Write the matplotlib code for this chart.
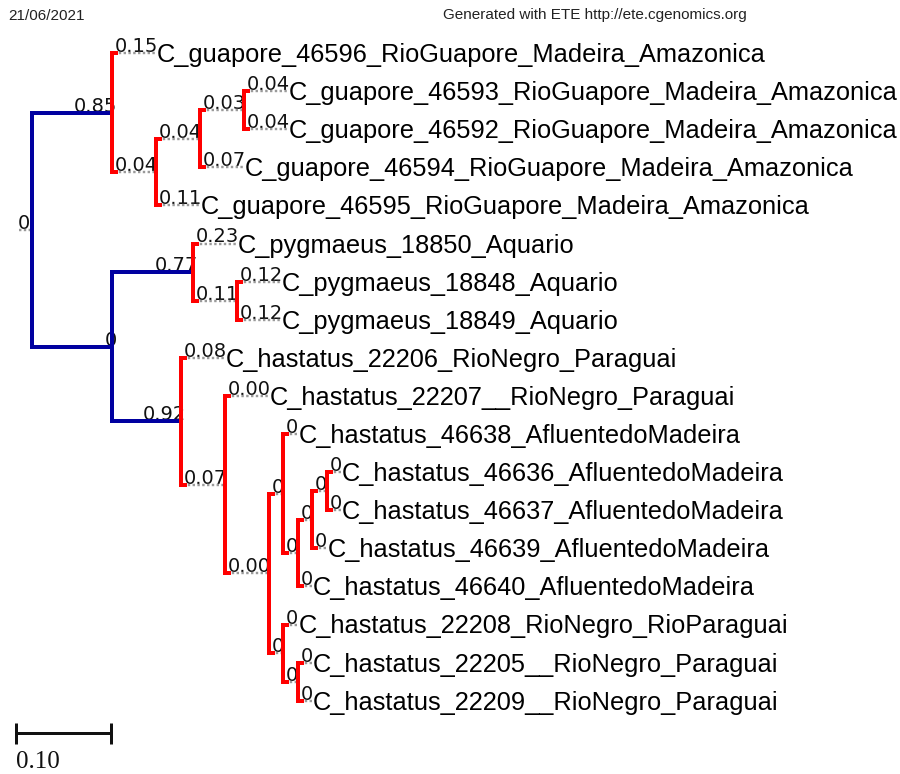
import matplotlib
matplotlib.use("Agg")
import matplotlib.pyplot as plt

# ---------------- data ----------------
leaf_names = [
    "C_guapore_46596_RioGuapore_Madeira_Amazonica",
    "C_guapore_46593_RioGuapore_Madeira_Amazonica",
    "C_guapore_46592_RioGuapore_Madeira_Amazonica",
    "C_guapore_46594_RioGuapore_Madeira_Amazonica",
    "C_guapore_46595_RioGuapore_Madeira_Amazonica",
    "C_pygmaeus_18850_Aquario",
    "C_pygmaeus_18848_Aquario",
    "C_pygmaeus_18849_Aquario",
    "C_hastatus_22206_RioNegro_Paraguai",
    "C_hastatus_22207__RioNegro_Paraguai",
    "C_hastatus_46638_AfluentedoMadeira",
    "C_hastatus_46636_AfluentedoMadeira",
    "C_hastatus_46637_AfluentedoMadeira",
    "C_hastatus_46639_AfluentedoMadeira",
    "C_hastatus_46640_AfluentedoMadeira",
    "C_hastatus_22208_RioNegro_RioParaguai",
    "C_hastatus_22205__RioNegro_Paraguai",
    "C_hastatus_22209__RioNegro_Paraguai",
]

# node = (branch label, branch length, children-list or leaf index)
guapore = ("0.85", 0.085, [
    ("0.15", 0.0, 0),
    ("0.04", 0.0, [
        ("0.04", 0.0, [
            ("0.03", 0.0, [("0.04", 0.0, 1), ("0.04", 0.0, 2)]),
            ("0.07", 0.0, 3),
        ]),
        ("0.11", 0.0, 4),
    ]),
])
pygmaeus = ("0.77", 0.085, [
    ("0.23", 0.0, 5),
    ("0.11", 0.0, [("0.12", 0.0, 6), ("0.12", 0.0, 7)]),
])
afluente = ("0", 0.0, [
    ("0", 0.0, 10),
    ("0", 0.0, [
        ("0", 0.0, [
            ("0", 0.0, [("0", 0.0, 11), ("0", 0.0, 12)]),
            ("0", 0.0, 13),
        ]),
        ("0", 0.0, 14),
    ]),
])
rionegro = ("0", 0.0, [
    ("0", 0.0, 15),
    ("0", 0.0, [("0", 0.0, 16), ("0", 0.0, 17)]),
])
hastatus = ("0.92", 0.072, [
    ("0.08", 0.0, 8),
    ("0.07", 0.0, [
        ("0.00", 0.0, 9),
        ("0.00", 0.0, [afluente, rionegro]),
    ]),
])
tree = ("0", 0.0, [guapore, ("0", 0.085, [pygmaeus, hastatus])])

scale_value = 0.10
header_left = "21/06/2021"
header_right = "Generated with ETE http://ete.cgenomics.org"

# ---------------- style ----------------
W, H = 900, 774
SCALE = 950.0          # pixels per branch-length unit
ROOT_X = 17.0
LEAF_Y0, LEAF_DY = 53.0, 38.1
BLUE = "#0000a0"
RED = "#ff0000"
GRAY = "#9a9a9a"
BLUE_VT = [(), (1,)]   # nodes (paths) whose vertical line is blue
LBL_FS = 14

def min_w(lbl):
    return 14.5 if len(lbl) == 1 else 44.0

fig = plt.figure(figsize=(W / 100, H / 100), dpi=100)
ax = fig.add_axes([0, 0, 1, 1])
ax.set_xlim(0, W)
ax.set_ylim(H, 0)
ax.axis("off")

px = 0.72  # points per pixel

def layout(node, x0, path):
    lbl, dist, ch = node
    length = max(dist * SCALE, min_w(lbl))
    x1 = x0 + length
    if isinstance(ch, int):
        y = LEAF_Y0 + LEAF_DY * ch
        kids = []
    else:
        kids = [layout(c, x1, path + (i,)) for i, c in enumerate(ch)]
        y = (kids[0]["y"] + kids[-1]["y"]) / 2
    return dict(lbl=lbl, x0=x0, x1=x1, y=y, kids=kids, leaf=ch if isinstance(ch, int) else None,
                path=path, long=dist * SCALE > min_w(lbl))

root = layout(tree, ROOT_X, ())

def draw(n, parent_blue):
    # horizontal
    if parent_blue and n["path"] != ():
        ax.plot([n["x0"], n["x1"]], [n["y"], n["y"]], color=BLUE, lw=4 * px,
                solid_capstyle="projecting", zorder=3)
    else:
        ax.plot([n["x0"] + 2, n["x1"]], [n["y"], n["y"]], color=GRAY, lw=2.4 * px,
                linestyle=(0, (1, 1)), dash_capstyle="butt", zorder=2)
    # branch label
    if n["long"]:
        ax.text(n["x1"] + 5, n["y"] - 1, n["lbl"], ha="right", va="baseline",
                fontsize=LBL_FS, family="DejaVu Sans", color="#111111", zorder=1)
    else:
        ax.text(n["x0"] + (1 if n["path"] == () else 3), n["y"] - 1, n["lbl"], ha="left",
                va="baseline", fontsize=LBL_FS, family="DejaVu Sans", color="#111111", zorder=1)
    if n["leaf"] is not None:
        ax.text(n["x1"] + 1, n["y"] + 2, leaf_names[n["leaf"]], ha="left", va="center",
                fontsize=18.3, family="Liberation Sans", color="black", zorder=1)
        return
    blue = n["path"] in BLUE_VT
    ys = [k["y"] for k in n["kids"]]
    if blue:
        ax.plot([n["x1"], n["x1"]], [ys[0], ys[-1]], color=BLUE, lw=4 * px,
                solid_capstyle="projecting", zorder=3)
    else:
        ax.plot([n["x1"] + 6, n["x1"], n["x1"], n["x1"] + 6], [ys[0], ys[0], ys[-1], ys[-1]],
                color=RED, lw=4 * px, solid_joinstyle="miter", solid_capstyle="butt", zorder=4)
    for k in n["kids"]:
        draw(k, blue)

draw(root, False)

# scale bar
sb = scale_value * SCALE
ax.plot([16, 16 + sb], [733, 733], color="#111111", lw=3 * px, solid_capstyle="butt")
for xx in (16, 16 + sb):
    ax.plot([xx, xx], [723, 744], color="#111111", lw=3 * px, solid_capstyle="butt")
ax.text(16, 768, f"{scale_value:.2f}", ha="left", va="baseline", fontsize=18,
        family="Liberation Serif", color="#111111")

# header
ax.text(8, 20, header_left, ha="left", va="baseline", fontsize=11, family="Liberation Sans",
        color="#222222")
ax.text(443, 19, header_right, ha="left", va="baseline", fontsize=11, family="Liberation Sans",
        color="#222222")

fig.savefig("out.png", dpi=100)
